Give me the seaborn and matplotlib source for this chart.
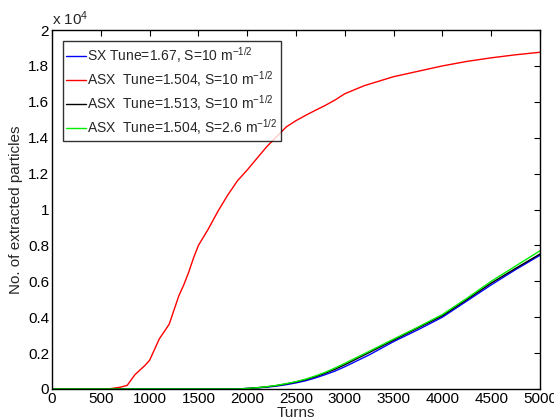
import pandas as pd
import seaborn as sns
import matplotlib.pyplot as plt
from matplotlib.ticker import MultipleLocator

# data (extracted particles, in units of 1e4)
turns_red = [0, 500, 600, 700, 770, 850, 900, 950, 1000, 1050, 1100, 1150, 1200, 1250,
             1300, 1350, 1400, 1450, 1500, 1600, 1700, 1800, 1900, 2000, 2100, 2200,
             2300, 2400, 2500, 2600, 2700, 2800, 2900, 3000, 3200, 3500, 3750, 4000,
             4250, 4500, 4750, 5000]
red = [0, 0, 0.002, 0.01, 0.02, 0.08, 0.105, 0.13, 0.16, 0.22, 0.28, 0.32, 0.36, 0.44,
       0.52, 0.58, 0.65, 0.73, 0.80, 0.89, 0.99, 1.08, 1.16, 1.22, 1.285, 1.35,
       1.405, 1.46, 1.495, 1.525, 1.553, 1.58, 1.61, 1.645, 1.69, 1.74, 1.77, 1.80,
       1.825, 1.845, 1.862, 1.876]

turns = [0, 1900, 2000, 2100, 2200, 2300, 2400, 2500, 2600, 2700, 2800, 2900, 3000,
         3250, 3500, 3750, 4000, 4250, 4500, 4750, 5000]
blue = [0, 0, 0.003, 0.006, 0.01, 0.016, 0.024, 0.034, 0.046, 0.062, 0.08, 0.10, 0.124,
        0.19, 0.264, 0.33, 0.40, 0.49, 0.58, 0.665, 0.745]
black = [0, 0, 0.003, 0.007, 0.012, 0.019, 0.028, 0.039, 0.052, 0.069, 0.088, 0.11, 0.135,
         0.203, 0.272, 0.34, 0.408, 0.498, 0.59, 0.672, 0.752]
green = [0, 0, 0.003, 0.007, 0.013, 0.02, 0.03, 0.041, 0.055, 0.073, 0.093, 0.117, 0.143,
         0.21, 0.278, 0.345, 0.415, 0.505, 0.60, 0.685, 0.77]

yticks = [0, 0.2, 0.4, 0.6, 0.8, 1.0, 1.2, 1.4, 1.6, 1.8, 2.0]
ytick_labels = ['0', '0.2', '0.4', '0.6', '0.8', '1', '1.2', '1.4', '1.6', '1.8', '2']

labels = ['SX Tune=1.67, S=10 m$^{-1/2}$',
          'ASX  Tune=1.504, S=10 m$^{-1/2}$',
          'ASX  Tune=1.513, S=10 m$^{-1/2}$',
          'ASX  Tune=1.504, S=2.6 m$^{-1/2}$']
colors = ['#0000ff', '#ff0000', '#000000', '#00ee00']

sns.set_style('white')
plt.rcParams['font.family'] = ['Liberation Sans', 'DejaVu Sans']
plt.rcParams['mathtext.fontset'] = 'custom'
plt.rcParams['mathtext.rm'] = 'Liberation Sans'
plt.rcParams['mathtext.it'] = 'Liberation Sans'

fig = plt.figure(figsize=(5.54, 4.18), dpi=100)
ax = fig.add_axes([0.0939, 0.0694, 0.8808, 0.8588])

series = [(turns, blue), (turns_red, red), (turns, black), (turns, green)]
for (x, y), lab, c in zip(series, labels, colors):
    sns.lineplot(x=x, y=y, ax=ax, color=c, label=lab, linewidth=1)

ax.set_xlim(0, 5000)
ax.xaxis.set_major_locator(MultipleLocator(500))
ax.set_yticks(yticks, ytick_labels)
ax.set_ylim(0, 2)
ax.tick_params(direction='in', length=4, width=0.8, top=True, right=True,
               labelsize=11, pad=2, colors='black')
for s in ax.spines.values():
    s.set_color('black')
    s.set_linewidth(1)

ax.set_xlabel('Turns', fontsize=11, labelpad=0)
ax.set_ylabel('No. of extracted particles', fontsize=11, labelpad=4)
ax.text(0.0, 1.005, 'x 10$^4$', transform=ax.transAxes, fontsize=11, ha='left', va='bottom')

leg = ax.legend(loc='upper left', bbox_to_anchor=(0.022, 0.968), fontsize=10,
                frameon=True, fancybox=False, edgecolor='black', handlelength=1.4,
                handletextpad=0.1, borderpad=0.25, labelspacing=0.3, borderaxespad=0)
leg.get_frame().set_linewidth(1)

fig.savefig('out.png', dpi=100)
